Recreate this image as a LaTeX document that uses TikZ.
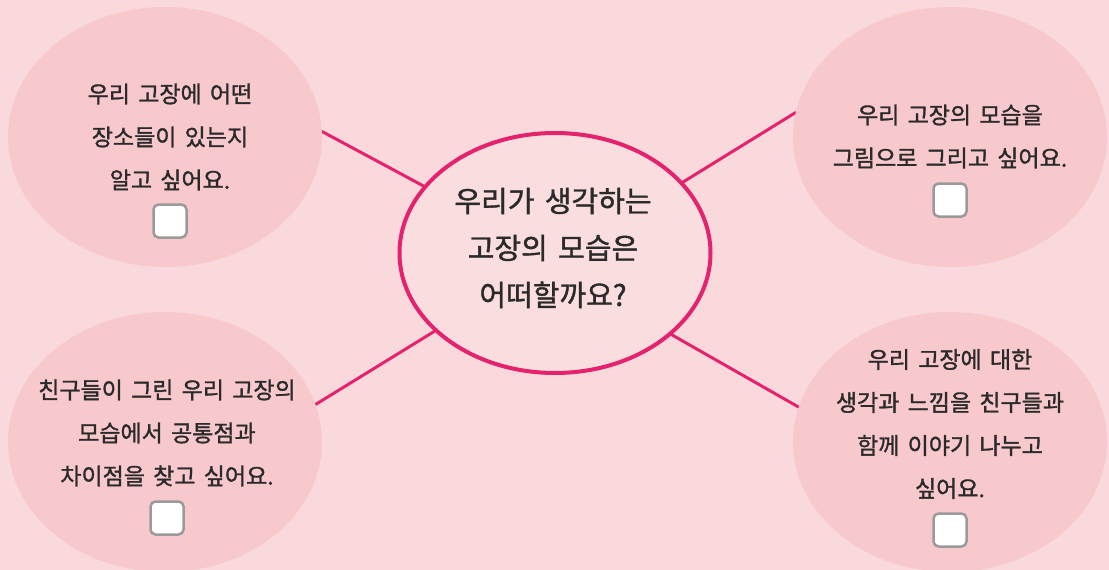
\documentclass[tikz,border=0pt]{standalone}
\usepackage{fontspec}
\newfontfamily\kr{Noto Sans CJK KR}[WordSpace=1.6,FakeBold=1.3]
\usetikzlibrary{shapes.geometric}
\definecolor{bgpink}{HTML}{F9D9DB}
\definecolor{petalpink}{HTML}{F8C9CC}
\definecolor{hubfill}{HTML}{FADDDF}
\definecolor{chalk}{HTML}{E5226E}
\definecolor{ink}{HTML}{2A2A2A}
\definecolor{boxgray}{HTML}{9A9A9A}
\pgfdeclarelayer{bglayer}
\pgfdeclarelayer{links}
\pgfsetlayers{bglayer,links,main}
\tikzset{
  petal/.style={ellipse, fill=petalpink, draw=none, minimum width=314pt, minimum height=260pt, inner sep=0pt},
  hub/.style={ellipse, fill=hubfill, draw=chalk, line width=4pt, minimum width=311pt, minimum height=240pt, inner sep=0pt},
  link/.style={draw=chalk, line width=3pt, line cap=round},
  ptext/.style={text=ink, align=center, inner sep=0pt, font={\kr\fontsize{23pt}{43pt}\selectfont}},
  htext/.style={text=ink, align=center, inner sep=0pt, font={\kr\fontsize{29pt}{47pt}\selectfont}},
  tickbox/.style={rectangle, draw=boxgray, line width=2.5pt, fill=white, rounded corners=5pt, minimum size=33pt, inner sep=0pt}
}
\begin{document}
\begin{tikzpicture}[x=1pt,y=-1pt]
\useasboundingbox (0,0) rectangle (1109,570);
\clip (0,0) rectangle (1109,570);
\begin{pgfonlayer}{bglayer}
\fill[bgpink] (0,0) rectangle (1109,570);
\end{pgfonlayer}
\node[petal] (tl) at (165,137) {};
\node[petal] (tr) at (950,137) {};
\node[petal] (bl) at (165,442) {};
\node[petal] (br) at (950,442) {};
\node[hub] (hub) at (555,253) {};
\begin{pgfonlayer}{links}
\draw[link] (hub.153.6) -- (tl.2.6);
\draw[link] (hub.29.3) -- (tr.171.5);
\draw[link] (hub.213.3) -- (bl.14.7);
\draw[link] (hub.325.2) -- (br.167);
\end{pgfonlayer}
\node[htext] (hubt) at (553,248) {우리가 생각하는\\고장의 모습은\\어떠할까요?};
\node[ptext] (tlt) at (170,137) {우리 고장에 어떤\\장소들이 있는지\\알고 싶어요.};
\node[tickbox] (tlb) at (170,221) {};
\node[ptext] (trt) at (950,136.5) {우리 고장의 모습을\\그림으로 그리고 싶어요.};
\node[tickbox] (trb) at (950,200) {};
\node[ptext] (blt) at (167,433) {친구들이 그린 우리 고장의\\모습에서 공통점과\\차이점을 찾고 싶어요.};
\node[tickbox] (blb) at (167,518) {};
\node[ptext] (brt) at (950,424) {우리 고장에 대한\\생각과 느낌을 친구들과\\함께 이야기 나누고\\싶어요.};
\node[tickbox] (brb) at (950,530) {};
\end{tikzpicture}
\end{document}
